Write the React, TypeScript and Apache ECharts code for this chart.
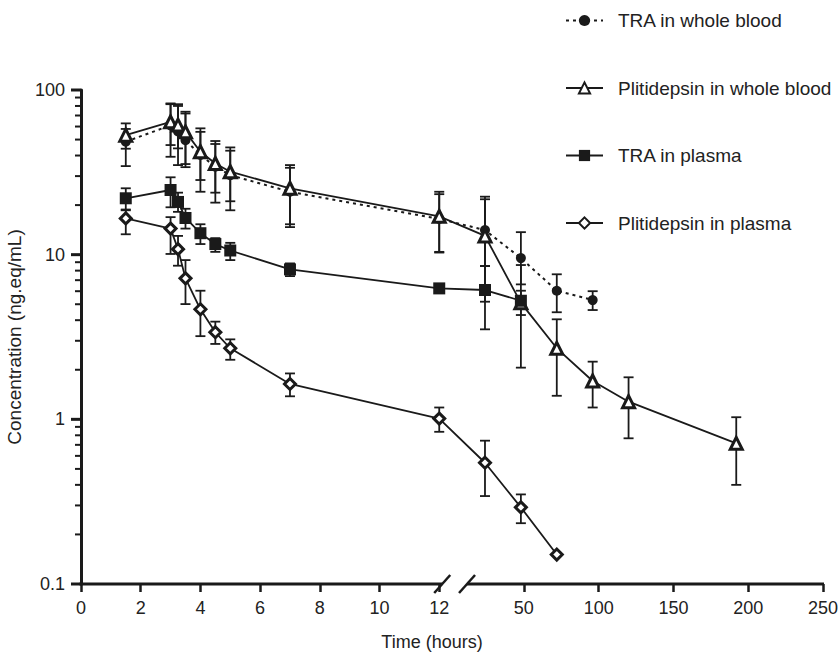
import React, { useEffect, useRef } from "react";
import * as echarts from "echarts";

// ---- Broken time axis: 0–12 h (left, linear) and 12–250 h (right, compressed) ----
const LEFT_MAX = 12;
const RIGHT_ORIGIN = 12.33; // display position of t = 0 on the right scale
const RIGHT_SCALE = 0.0501; // display units per hour on the right scale
const X_END_HOURS = 250;
const BREAK_LEFT = 12.1; // where the left axis segment stops (display units)
const BREAK_RIGHT_HOURS = 12; // where the right axis segment starts (hours, right scale)

const LEFT_TICKS = [0, 2, 4, 6, 8, 10, 12];
const RIGHT_TICKS = [50, 100, 150, 200, 250];
const Y_MAJOR_TICKS = [0.1, 1, 10, 100];
const Y_MINOR_TICKS = [
  0.2, 0.3, 0.4, 0.5, 0.6, 0.7, 0.8, 0.9,
  2, 3, 4, 5, 6, 7, 8, 9,
  20, 30, 40, 50, 60, 70, 80, 90,
];

// ---- Data ----
const TIME_TRA_WB = [1.5, 3, 3.25, 3.5, 4, 4.5, 5, 7, 12, 24, 48, 72, 96];
const TRA_WB = [48.5, 61, 56, 49.6, 40.3, 34.2, 30.4, 24.1, 16.5, 14.1, 9.53, 6.04, 5.3];
const TRA_WB_LO = [34.5, 39.3, 35, 34, 24.1, 20.7, 18.6, 14.7, 10.3, 8.53, 6.6, 4.47, 4.61];
const TRA_WB_HI = [58, 82.9, 80, 72, 55.7, 47, 42.8, 33.7, 23.3, 22.5, 13.7, 7.6, 6.0];

const TIME_PLI_WB = [1.5, 3, 3.25, 3.5, 4, 4.5, 5, 7, 12, 24, 48, 72, 96, 120, 192];
const PLI_WB = [53.2, 64.1, 61.2, 55.7, 42.2, 35.8, 31.9, 25.3, 17.1, 13.0, 5.1, 2.7, 1.71, 1.28, 0.715];
const PLI_WB_LO = [44, 46.3, 44.2, 35.5, 28.4, 23.8, 21.1, 15.3, 10.4, 3.52, 2.06, 1.39, 1.18, 0.767, 0.4];
const PLI_WB_HI = [62.7, 82, 82, 73.8, 58.5, 49, 44.8, 35, 24.1, 21.7, 8.65, 4.05, 2.24, 1.8, 1.03];

const TIME_TRA_P = [1.5, 3, 3.25, 3.5, 4, 4.5, 5, 7, 12, 24, 48];
const TRA_P = [22, 24.7, 20.9, 16.7, 13.5, 11.6, 10.6, 8.14, 6.24, 6.1, 5.25];
const TRA_P_LO = [18.8, 19.4, 18.2, 14.4, 11.6, 10.4, 9.27, 7.41, null, 5.18, 4.3];
const TRA_P_HI = [25.3, 29.5, 23.8, 19, 15.3, 12.6, 11.8, 8.85, null, 8.53, 6.04];

const TIME_PLI_P = [1.5, 3, 3.25, 3.5, 4, 4.5, 5, 7, 12, 24, 48, 72];
const PLI_P = [16.6, 14.4, 10.8, 7.18, 4.66, 3.38, 2.7, 1.64, 1.01, 0.545, 0.292, 0.151];
const PLI_P_LO = [13.3, 10.1, 8.57, 5.01, 3.2, 2.87, 2.3, 1.38, 0.84, 0.342, 0.234, null];
const PLI_P_HI = [18.6, 16.9, 13, 9.27, 6.04, 3.92, 3.06, 1.9, 1.18, 0.742, 0.35, null];

const NAMES = [
  "TRA in whole blood",
  "Plitidepsin in whole blood",
  "TRA in plasma",
  "Plitidepsin in plasma",
];

const INK = "#1a1a1a";
const TEXT = "#222";
const FONT = "'Liberation Sans', Arial, Helvetica, sans-serif";

function rightDisp(t: number): number {
  return RIGHT_ORIGIN + t * RIGHT_SCALE;
}
function toDisp(t: number): number {
  return t <= LEFT_MAX ? t : rightDisp(t);
}
const X_MAX = rightDisp(X_END_HOURS);
const TICK_DISP = [...LEFT_TICKS, ...RIGHT_TICKS.map(rightDisp)];
const TICK_LABELS = [...LEFT_TICKS, ...RIGHT_TICKS].map(String);

function pts(times: number[], vals: number[]) {
  return times.map((t, i) => [toDisp(t), vals[i]]);
}
function bars(times: number[], lo: (number | null)[], hi: (number | null)[]) {
  const out: number[][] = [];
  times.forEach((t, i) => {
    const l = lo[i];
    const h = hi[i];
    if (l != null && h != null) out.push([toDisp(t), l, h]);
  });
  return out;
}

function errorSeries(data: number[][]) {
  return {
    type: "custom",
    silent: true,
    clip: false,
    z: 2,
    data,
    encode: { x: 0, y: [1, 2] },
    renderItem: (params: any, api: any) => {
      const x = api.value(0);
      const p1 = api.coord([x, api.value(1)]);
      const p2 = api.coord([x, api.value(2)]);
      const hw = 5;
      const style = { stroke: INK, lineWidth: 1.8 };
      return {
        type: "group",
        children: [
          { type: "line", shape: { x1: p1[0], y1: p1[1], x2: p2[0], y2: p2[1] }, style },
          { type: "line", shape: { x1: p1[0] - hw, y1: p1[1], x2: p1[0] + hw, y2: p1[1] }, style },
          { type: "line", shape: { x1: p2[0] - hw, y1: p2[1], x2: p2[0] + hw, y2: p2[1] }, style },
        ],
      };
    },
  };
}

export default function App() {
  const ref = useRef<HTMLDivElement>(null);
  useEffect(() => {
    if (!ref.current) return;
    const chart = echarts.init(ref.current, undefined, { renderer: "svg" });

    const lineBase = {
      type: "line",
      z: 3,
      showSymbol: true,
      lineStyle: { color: INK, width: 1.8 },
    };

    const option: any = {
      animation: false,
      textStyle: { fontFamily: FONT },
      grid: { left: 81, right: 16, top: 90, bottom: 75, containLabel: false, outerBoundsMode: "none" },
      legend: {
        data: NAMES,
        orient: "vertical",
        left: 565,
        top: 11,
        itemWidth: 37,
        itemHeight: 14,
        itemGap: 48.5,
        padding: 0,
        selectedMode: false,
        textStyle: { fontSize: 19, color: TEXT, fontFamily: FONT, padding: [0, 0, 0, 10] },
      },
      xAxis: {
        type: "value",
        min: 0,
        max: X_MAX,
        name: "Time (hours)",
        nameLocation: "middle",
        nameGap: 49,
        nameTextStyle: { fontSize: 18, color: TEXT, fontFamily: FONT, padding: [0, 40, 0, 0] },
        axisLine: { show: false },
        splitLine: { show: false },
        axisTick: {
          show: true,
          customValues: TICK_DISP,
          length: 8,
          lineStyle: { color: INK, width: 2.5 },
        },
        axisLabel: {
          customValues: TICK_DISP,
          fontSize: 18,
          color: TEXT,
          margin: 15,
          formatter: (v: number) => {
            let best = 0;
            let bd = Infinity;
            TICK_DISP.forEach((d, i) => {
              const dd = Math.abs(d - v);
              if (dd < bd) {
                bd = dd;
                best = i;
              }
            });
            return TICK_LABELS[best];
          },
        },
      },
      yAxis: {
        type: "log",
        logBase: 10,
        min: 0.1,
        max: 100,
        name: "Concentration (ng.eq/mL)",
        nameLocation: "middle",
        nameRotate: 90,
        nameGap: 45,
        nameTextStyle: { fontSize: 19, color: TEXT, fontFamily: FONT },
        axisLine: { show: true, lineStyle: { color: INK, width: 3 } },
        axisTick: { show: false },
        splitLine: { show: false },
        axisLabel: {
          fontSize: 18,
          color: TEXT,
          margin: 16,
          formatter: (v: number) => String(v),
        },
      },
      series: [
        // broken x-axis line, break marks and y-axis ticks
        {
          type: "custom",
          silent: true,
          clip: false,
          z: 5,
          data: [[0, 0.1]],
          renderItem: (params: any, api: any) => {
            const a = api.coord([0, 0.1]);
            const b = api.coord([BREAK_LEFT, 0.1]);
            const c = api.coord([rightDisp(BREAK_RIGHT_HOURS), 0.1]);
            const d = api.coord([X_MAX, 0.1]);
            const axisStyle = { stroke: INK, lineWidth: 3 };
            const slashStyle = { stroke: INK, lineWidth: 2.5 };
            const children: any[] = [
              { type: "line", shape: { x1: a[0] - 1.5, y1: a[1], x2: b[0], y2: b[1] }, style: axisStyle },
              { type: "line", shape: { x1: c[0], y1: c[1], x2: d[0] + 1, y2: d[1] }, style: axisStyle },
              { type: "line", shape: { x1: b[0] - 8, y1: b[1] + 9, x2: b[0] + 8, y2: b[1] - 9 }, style: slashStyle },
              { type: "line", shape: { x1: c[0] - 8, y1: c[1] + 9, x2: c[0] + 8, y2: c[1] - 9 }, style: slashStyle },
            ];
            Y_MAJOR_TICKS.forEach((v) => {
              const p = api.coord([0, v]);
              children.push({
                type: "line",
                shape: { x1: p[0] - 10, y1: p[1], x2: p[0], y2: p[1] },
                style: { stroke: INK, lineWidth: 3 },
              });
            });
            Y_MINOR_TICKS.forEach((v) => {
              const p = api.coord([0, v]);
              children.push({
                type: "line",
                shape: { x1: p[0] - 6, y1: p[1], x2: p[0], y2: p[1] },
                style: { stroke: INK, lineWidth: 2 },
              });
            });
            return { type: "group", children };
          },
        },
        errorSeries(bars(TIME_TRA_WB, TRA_WB_LO, TRA_WB_HI)),
        errorSeries(bars(TIME_PLI_WB, PLI_WB_LO, PLI_WB_HI)),
        errorSeries(bars(TIME_TRA_P, TRA_P_LO, TRA_P_HI)),
        errorSeries(bars(TIME_PLI_P, PLI_P_LO, PLI_P_HI)),
        {
          ...lineBase,
          name: NAMES[0],
          data: pts(TIME_TRA_WB, TRA_WB),
          symbol: "circle",
          symbolSize: 10,
          lineStyle: { color: INK, width: 2, type: [3, 4] },
          itemStyle: { color: INK, borderWidth: 0 },
        },
        {
          ...lineBase,
          name: NAMES[1],
          data: pts(TIME_PLI_WB, PLI_WB),
          symbol: "triangle",
          symbolSize: 12,
          itemStyle: { color: "#fff", borderColor: INK, borderWidth: 3 },
        },
        {
          ...lineBase,
          name: NAMES[2],
          data: pts(TIME_TRA_P, TRA_P),
          symbol: "rect",
          symbolSize: 12,
          itemStyle: { color: INK, borderWidth: 0 },
        },
        {
          ...lineBase,
          name: NAMES[3],
          data: pts(TIME_PLI_P, PLI_P),
          symbol: "diamond",
          symbolSize: 11,
          itemStyle: { color: "#fff", borderColor: INK, borderWidth: 3 },
        },
      ],
    };

    chart.setOption(option);
    return () => chart.dispose();
  }, []);

  return (
    <div
      ref={ref}
      style={{ position: "fixed", left: 0, top: 0, width: 839, height: 659, background: "#fff" }}
    />
  );
}
